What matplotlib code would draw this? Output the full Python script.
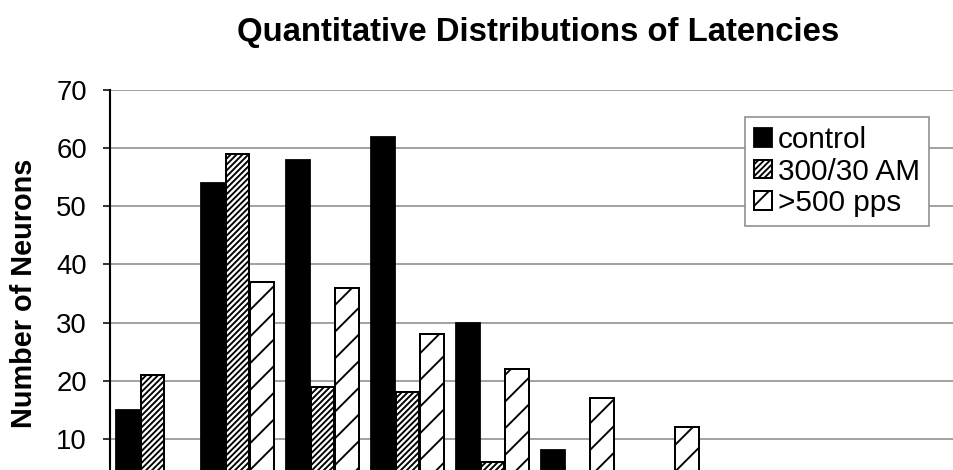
import matplotlib.pyplot as plt
import numpy as np

# latency bins (axis labels are cut off in the source picture)
bins = ["1", "2", "3", "4", "5", "6", "7", "8", "9", "10"]
control = [15, 54, 58, 62, 30, 8, 2, 0, 0, 0]
am_300_30 = [21, 59, 19, 18, 6, 2, 1, 0, 0, 0]
pps_500 = [0, 37, 36, 28, 22, 17, 12, 0, 0, 0]

y_ticks = [10, 20, 30, 40, 50, 60, 70]

plt.rcParams["font.family"] = ["Liberation Sans", "DejaVu Sans"]
plt.rcParams["hatch.linewidth"] = 0.85
plt.rcParams["hatch.color"] = "black"

DPI = 160
fig = plt.figure(figsize=(953 / DPI, 470 / DPI), dpi=DPI)
# axes bottom lies below the picture, like the cropped original
ax = fig.add_axes([110 / 953, -27 / 470, 850 / 953, 407 / 470])

x = np.arange(len(bins))
w = 0.28
off = 0.287

ax.bar(x - off, control, w, color="black", edgecolor="black", linewidth=0.8,
       label="control", zorder=3)
ax.bar(x, am_300_30, w, color="white", edgecolor="black", linewidth=0.9,
       hatch="/////////", label="300/30 AM", zorder=3)
ax.bar(x + off, pps_500, w, color="white", edgecolor="black", linewidth=0.9,
       hatch="//", label=">500 pps", zorder=3)

ax.set_xlim(-0.5, len(bins) - 0.5)
ax.set_ylim(0, 70)
ax.set_yticks(y_ticks)
ax.yaxis.grid(True, color="#8a8a8a", linewidth=0.7, zorder=0)
ax.set_axisbelow(True)
for s in ["top", "right", "bottom"]:
    ax.spines[s].set_visible(False)
ax.spines["left"].set_linewidth(0.95)
ax.tick_params(axis="y", length=3.2, width=0.7, pad=7.2, labelsize=12.4)
ax.tick_params(axis="x", length=0, labelbottom=False)

ax.set_ylabel("Number of Neurons", fontsize=13, fontweight="bold", labelpad=8)

fig.text(538 / 953, 1 - 41 / 470, "Quantitative Distributions of Latencies",
         ha="center", va="baseline", fontsize=14.8, fontweight="bold")

leg = ax.legend(loc="upper left", bbox_to_anchor=(745 / 953, 1 - 117 / 470),
                bbox_transform=fig.transFigure, borderaxespad=0, fontsize=13.4,
                handlelength=0.6, handleheight=0.6, handletextpad=0.2,
                labelspacing=0.12, borderpad=0.3, fancybox=False,
                framealpha=1, edgecolor="#8a8a8a")
leg.get_frame().set_linewidth(0.7)

fig.savefig("out.png", dpi=DPI)
